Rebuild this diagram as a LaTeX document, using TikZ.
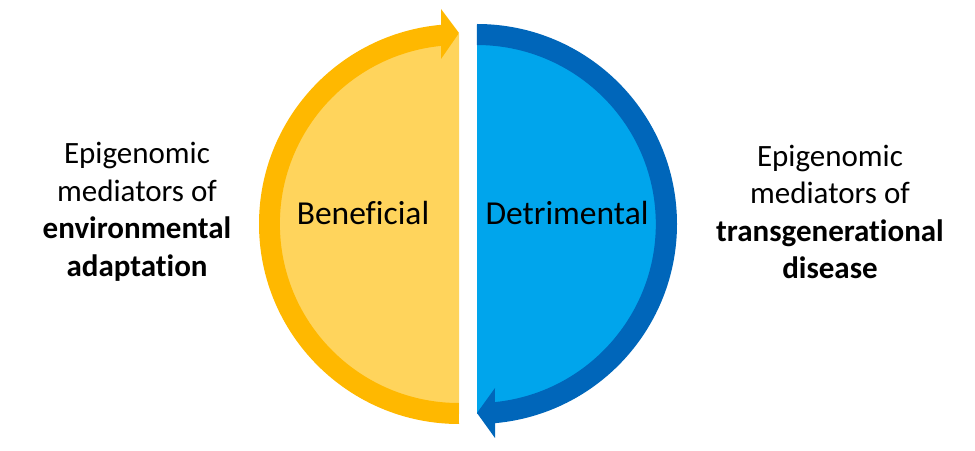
\documentclass[tikz,border=0pt]{standalone}
\usepackage{fontspec}
\setmainfont{Carlito}[Ligatures={NoCommon}]
\definecolor{ringY}{RGB}{255,184,0}
\definecolor{fillY}{RGB}{255,212,92}
\definecolor{ringB}{RGB}{0,102,186}
\definecolor{fillB}{RGB}{0,165,236}
\tikzset{
  sidetext/.style={align=center, font=\fontsize{31}{37.5}\selectfont, inner sep=0pt},
  halftext/.style={font=\fontsize{33.5}{38}\selectfont, inner sep=0pt}
}
\begin{document}
\begin{tikzpicture}[x=1pt,y=1pt]
\useasboundingbox (0,0) rectangle (975,450);
% yellow half
\fill[fillY] (459,416) arc[start angle=90,end angle=270,radius=190] -- cycle;
\fill[ringY] (459,26) arc[start angle=270,end angle=95.1,radius=200]
  -- (441,441) -- (459,417) -- (441,391)
  -- (441.1,404.1) arc[start angle=95.7,end angle=270,radius=179] -- cycle;
% blue half
\fill[fillB] (477,416) arc[start angle=90,end angle=-90,radius=190] -- cycle;
\fill[ringB] (477,426) arc[start angle=90,end angle=-84.8,radius=200]
  -- (495,12) -- (477,37) -- (495,62)
  -- (494.9,47.9) arc[start angle=-84.2,end angle=90,radius=179] -- cycle;
% texts
\node[halftext] (ben) at (363,237) {Beneficial};
\node[halftext] (det) at (567,237) {Detrimental};
\node[sidetext] (lt) at (137,238) {Epigenomic\\mediators of\\\textbf{environmental}\\\textbf{adaptation}};
\node[sidetext] (rt) at (830,238) {Epigenomic\\mediators of\\\textbf{transgenerational}\\\textbf{disease}};
\end{tikzpicture}
\end{document}
